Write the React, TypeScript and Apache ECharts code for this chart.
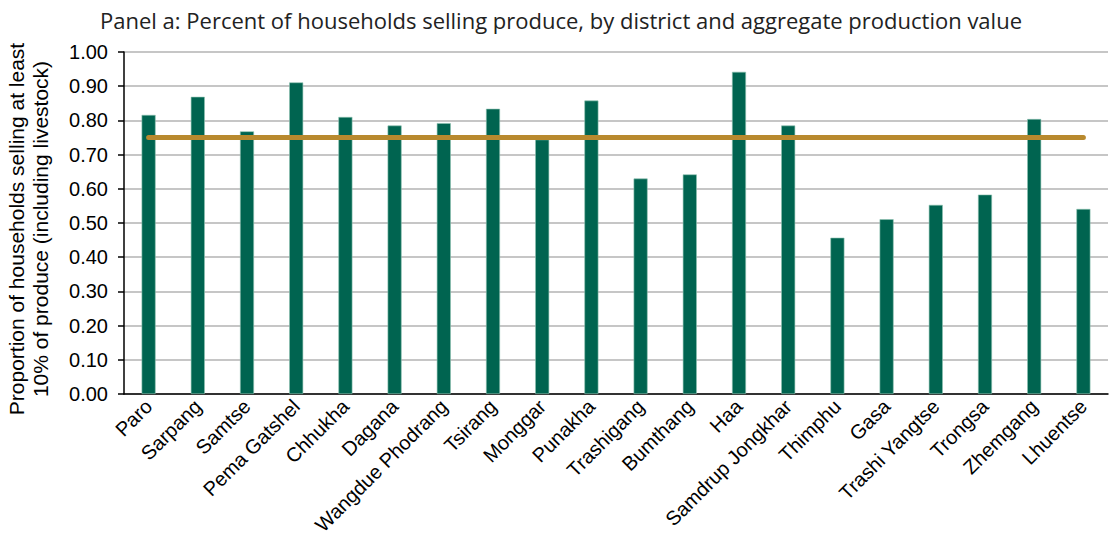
import React, { useEffect, useRef } from "react";
import * as echarts from "echarts";

const districts = [
  "Paro", "Sarpang", "Samtse", "Pema Gatshel", "Chhukha", "Dagana",
  "Wangdue Phodrang", "Tsirang", "Monggar", "Punakha", "Trashigang",
  "Bumthang", "Haa", "Samdrup Jongkhar", "Thimphu", "Gasa",
  "Trashi Yangtse", "Trongsa", "Zhemgang", "Lhuentse",
];
const shareSelling = [
  0.816, 0.869, 0.768, 0.911, 0.810, 0.785, 0.792, 0.834, 0.744, 0.858,
  0.630, 0.642, 0.942, 0.785, 0.457, 0.511, 0.553, 0.583, 0.804, 0.541,
];
const nationalAverage = 0.75;
const averageLine = districts.map(() => nationalAverage);

const titleText =
  "Panel a: Percent of households selling produce, by district and aggregate production value";
const yAxisTitle =
  "Proportion of households selling at least\n10% of produce (including livestock)";

export default function App() {
  const ref = useRef<HTMLDivElement>(null);
  useEffect(() => {
    document.body.style.margin = "0";
    if (!ref.current) return;
    const chart = echarts.init(ref.current, undefined, { renderer: "svg" });
    chart.setOption({
      animation: false,
      backgroundColor: "#ffffff",
      title: {
        text: titleText,
        left: 556,
        textAlign: "center",
        top: 4,
        textStyle: {
          fontFamily: "Open Sans",
          fontWeight: "normal",
          fontSize: 22,
          color: "#222222",
        },
      },
      grid: {
        left: 124, right: 3, top: 52, bottom: 158,
        containLabel: false,
        outerBoundsMode: "none",
      },
      xAxis: {
        type: "category",
        data: districts,
        axisLine: { lineStyle: { color: "#000000", width: 1.5 } },
        axisTick: { show: false },
        axisLabel: {
          interval: 0,
          rotate: 45,
          fontFamily: "Liberation Sans",
          fontSize: 20,
          color: "#000000",
          margin: 9,
        },
      },
      yAxis: {
        type: "value",
        min: 0,
        max: 1,
        interval: 0.1,
        name: yAxisTitle,
        nameLocation: "middle",
        nameRotate: 90,
        nameGap: 72,
        nameTextStyle: {
          fontFamily: "Liberation Sans",
          fontSize: 21,
          color: "#000000",
          lineHeight: 24,
          padding: [0, 12, 0, 0],
        },
        axisLine: { show: true, lineStyle: { color: "#000000", width: 1.5 } },
        axisTick: { show: true, length: 6, lineStyle: { color: "#000000", width: 1.5 } },
        axisLabel: {
          formatter: (v: number) => v.toFixed(2),
          fontFamily: "Liberation Sans",
          fontSize: 20,
          color: "#000000",
          margin: 16,
        },
        splitLine: { lineStyle: { color: "#b3b3b3", width: 1.5 } },
      },
      series: [
        {
          type: "bar",
          data: shareSelling,
          barWidth: 14,
          itemStyle: { color: "#006450", borderColor: "#8fc2b2", borderWidth: 0.6 },
        },
        {
          type: "line",
          data: averageLine,
          symbol: "none",
          z: 5,
          lineStyle: { color: "#B8892E", width: 5, cap: "round" },
        },
      ],
    });
    return () => chart.dispose();
  }, []);
  return <div ref={ref} style={{ width: 1111, height: 552 }} />;
}
